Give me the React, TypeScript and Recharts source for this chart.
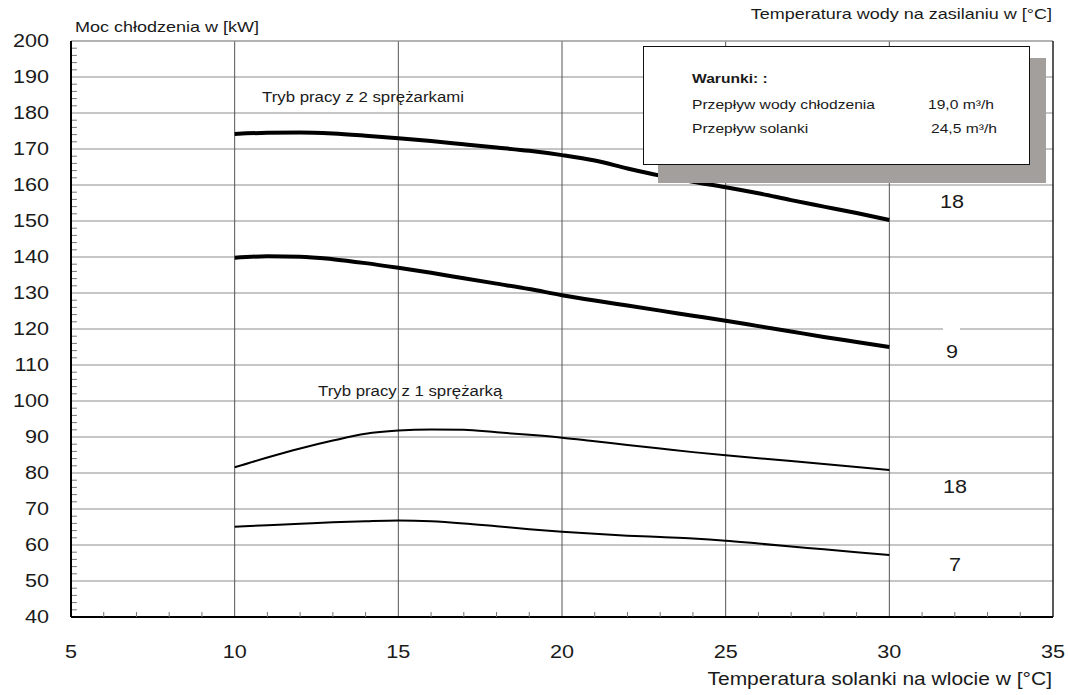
import { Line, LineChart, ReferenceLine, XAxis, YAxis } from "recharts";

// temperatura solanki na wlocie [°C]
const TEMP_IN = [10, 11, 12, 13, 14, 15, 16, 17, 18, 19, 20, 21, 22, 23, 24, 25, 26, 27, 28, 29, 30];

// moc chłodzenia [kW]
const TWO_COMP_18 = [174.2, 174.5, 174.6, 174.3, 173.7, 173.0, 172.2, 171.3, 170.4, 169.5, 168.3, 166.8, 164.6, 162.6, 160.9, 159.4, 157.7, 155.8, 154.0, 152.2, 150.3];
const TWO_COMP_9 = [139.8, 140.2, 140.1, 139.4, 138.3, 137.0, 135.6, 134.1, 132.6, 131.1, 129.4, 127.9, 126.5, 125.1, 123.7, 122.3, 120.8, 119.3, 117.8, 116.4, 115.0];
const ONE_COMP_18 = [81.6, 84.3, 86.8, 89.0, 90.9, 91.8, 92.1, 92.0, 91.3, 90.6, 89.8, 88.8, 87.8, 86.8, 85.8, 84.9, 84.1, 83.3, 82.5, 81.7, 80.8];
const ONE_COMP_7 = [65.1, 65.5, 65.9, 66.3, 66.6, 66.8, 66.6, 66.0, 65.2, 64.4, 63.7, 63.1, 62.6, 62.2, 61.8, 61.2, 60.4, 59.6, 58.8, 58.0, 57.2];

const X_LABELS = [5, 10, 15, 20, 25, 30, 35];
const Y_LABELS = [40, 50, 60, 70, 80, 90, 100, 110, 120, 130, 140, 150, 160, 170, 180, 190, 200];
const X_GRID = [10, 15, 20, 25, 30];
const Y_GRID = [50, 60, 70, 80, 90, 100, 110, 120, 130, 140, 150, 160, 170, 180, 190];

// podziałka pomocnicza: co 1 °C i co 2 kW
const X_MINOR = Array.from({ length: 31 }, (_, i) => 5 + i);
const Y_MINOR = Array.from({ length: 81 }, (_, i) => 40 + i * 2).filter((v) => v % 10 !== 0);

const SERIES = [
  { key: "c2_18", values: TWO_COMP_18, width: 4 },
  { key: "c2_9", values: TWO_COMP_9, width: 4 },
  { key: "c1_18", values: ONE_COMP_18, width: 2 },
  { key: "c1_7", values: ONE_COMP_7, width: 2 },
];

const FONT = '"Liberation Sans", Arial, Helvetica, sans-serif';
const STRETCH = 1.2;
const INK = "#1a1a1a";

const data = TEMP_IN.map((t, i) => {
  const row: Record<string, number> = { t };
  SERIES.forEach((s) => (row[s.key] = s.values[i]));
  return row;
});

function YTick(props: any) {
  const { x, y, payload } = props;
  return (
    <text
      transform={`translate(${x - 22},${y}) scale(${STRETCH},1)`}
      textAnchor="end"
      dominantBaseline="central"
      fontSize={18}
      fontFamily={FONT}
      fill={INK}
    >
      {payload.value}
    </text>
  );
}

function XTick(props: any) {
  const { x, y, payload } = props;
  const v = payload.value as number;
  const major = X_LABELS.includes(v);
  return (
    <g>
      {!major && <line x1={x} x2={x} y1={y} y2={y - 5} stroke="#777" />}
      {major && (
        <text
          transform={`translate(${x},${y + 35}) scale(${STRETCH},1)`}
          textAnchor="middle"
          dominantBaseline="central"
          fontSize={18}
          fontFamily={FONT}
          fill={INK}
        >
          {v}
        </text>
      )}
    </g>
  );
}

function Label({
  x,
  y,
  text,
  size = 15,
  bold = false,
  align = "left",
}: {
  x: number;
  y: number;
  text: string;
  size?: number;
  bold?: boolean;
  align?: "left" | "right" | "center";
}) {
  const shift = align === "left" ? "0" : align === "right" ? "-100%" : "-50%";
  return (
    <div
      style={{
        position: "absolute",
        left: x,
        top: y,
        transform: `translate(${shift}, -50%) scaleX(${STRETCH})`,
        transformOrigin: align,
        whiteSpace: "nowrap",
        fontFamily: FONT,
        fontSize: size,
        fontWeight: bold ? 700 : 400,
        lineHeight: 1,
        color: INK,
      }}
    >
      {text}
    </div>
  );
}

export default function App() {
  return (
    <div style={{ position: "absolute", left: 0, top: 0, width: 1068, height: 695, background: "#fff" }}>
      <LineChart
        width={1068}
        height={695}
        data={data}
        margin={{ top: 41, right: 15, bottom: 48, left: 11 }}
      >
        <XAxis
          dataKey="t"
          type="number"
          domain={[5, 35]}
          ticks={X_MINOR}
          interval={0}
          height={30}
          tickSize={0}
          tickMargin={0}
          tickLine={false}
          axisLine={{ stroke: "#000", strokeWidth: 2 }}
          tick={XTick}
        />
        <YAxis
          type="number"
          domain={[40, 200]}
          ticks={Y_LABELS}
          interval={0}
          width={60}
          tickSize={0}
          tickMargin={0}
          tickLine={false}
          axisLine={{ stroke: "#000", strokeWidth: 2 }}
          tick={YTick}
        />
        {Y_GRID.map((v) => (
          <ReferenceLine key={`y${v}`} y={v} stroke="#8c8c8c" strokeWidth={1} />
        ))}
        {X_GRID.map((v) => (
          <ReferenceLine key={`x${v}`} x={v} stroke="#555" strokeWidth={1} />
        ))}
        {Y_MINOR.map((v) => (
          <ReferenceLine
            key={`m${v}`}
            segment={[
              { x: 5, y: v },
              { x: 5.18, y: v },
            ]}
            stroke="#777"
            strokeWidth={1}
          />
        ))}
        <ReferenceLine y={200} stroke="#999" strokeWidth={1.5} />
        <ReferenceLine x={35} stroke="#222" strokeWidth={1.5} />
        {SERIES.map((s) => (
          <Line
            key={s.key}
            type="monotone"
            dataKey={s.key}
            stroke="#000"
            strokeWidth={s.width}
            dot={false}
            activeDot={false}
            isAnimationActive={false}
          />
        ))}
      </LineChart>

      <Label x={75} y={26} text="Moc chłodzenia w [kW]" />
      <Label x={1052} y={13} text="Temperatura wody na zasilaniu w [°C]" align="right" />
      <Label x={1052} y={680} text="Temperatura solanki na wlocie w [°C]" size={17.5} align="right" />

      <Label x={262} y={97} text="Tryb pracy z 2 sprężarkami" size={14} />
      <Label x={318} y={391} text="Tryb pracy z 1 sprężarką" size={14} />

      <div style={{ position: "absolute", left: 943, top: 325, width: 17, height: 9, background: "#fff" }} />
      <Label x={952} y={202} text="18" size={18} align="center" />
      <Label x={952} y={352} text="9" size={18} align="center" />
      <Label x={955} y={487} text="18" size={18} align="center" />
      <Label x={955} y={565} text="7" size={18} align="center" />

      {/* ramka z warunkami */}
      <div style={{ position: "absolute", left: 658, top: 58, width: 388, height: 125, background: "#a39f9c" }} />
      <div
        style={{
          position: "absolute",
          left: 643,
          top: 46,
          width: 385,
          height: 117,
          background: "#fff",
          border: "1.5px solid #111",
        }}
      />
      <Label x={692} y={78} text="Warunki: :" size={13} bold />
      <Label x={692} y={104} text="Przepływ wody chłodzenia" size={13} />
      <Label x={928} y={104} text="19,0 m³/h" size={13} />
      <Label x={692} y={128} text="Przepływ solanki" size={13} />
      <Label x={931} y={128} text="24,5 m³/h" size={13} />
    </div>
  );
}
